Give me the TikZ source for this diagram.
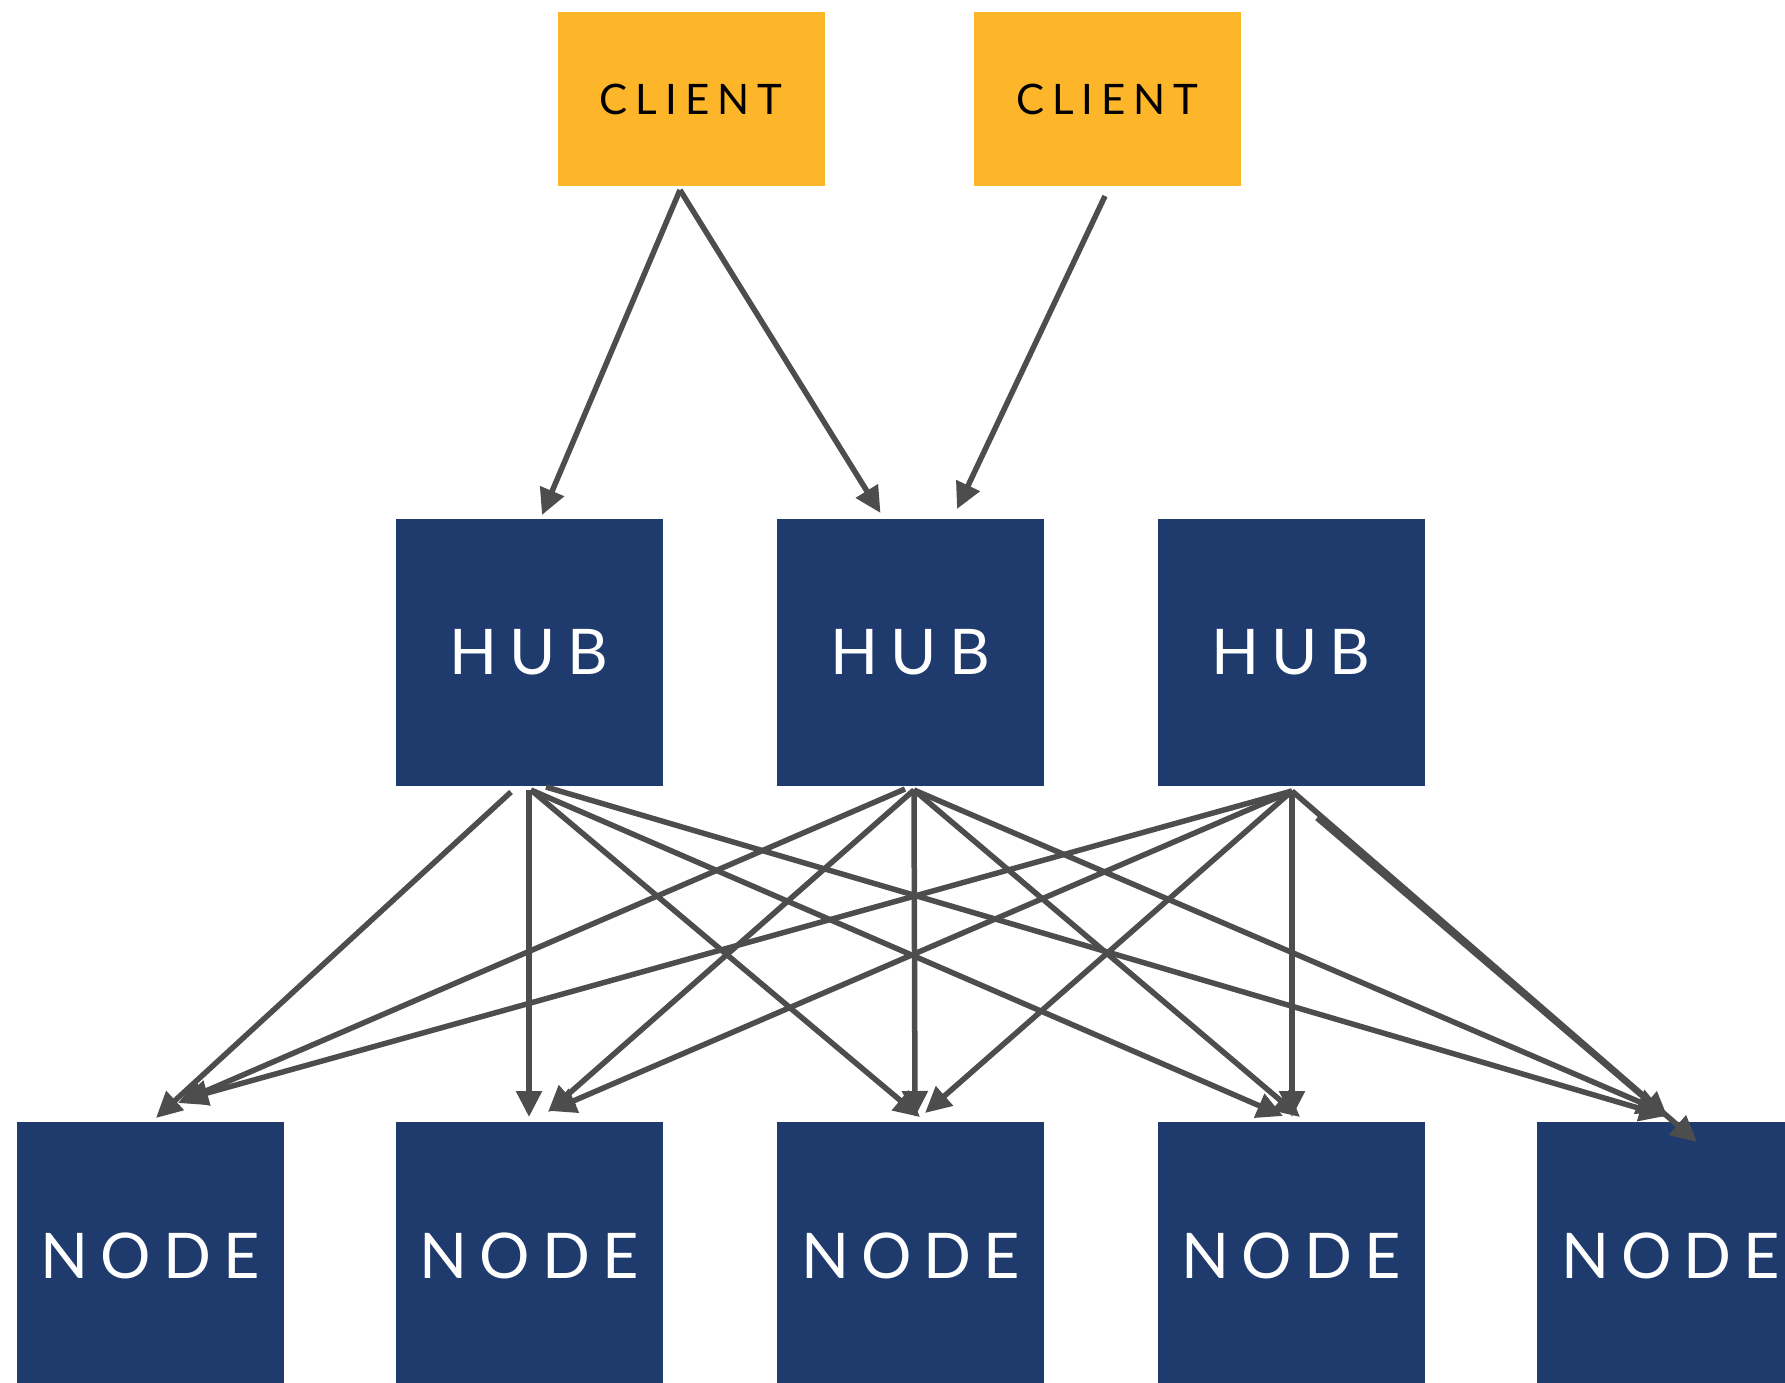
\documentclass[tikz,border=0pt]{standalone}
\usepackage{fontspec}
\setmainfont{Lato}
\newfontfamily\labelfont[LetterSpace=19]{Lato}
\usetikzlibrary{arrows.meta,calc}
\definecolor{clientyellow}{HTML}{FDB52A}
\definecolor{hubnavy}{HTML}{1F3B6D}
\definecolor{wire}{HTML}{4D4D4D}
\begin{document}
\begin{tikzpicture}[x=1pt,y=-1pt,
  box/.style={minimum width=267pt, inner sep=0pt, outer sep=0pt},
  clientbox/.style={box, fill=clientyellow, minimum height=174pt, text=black,
    font=\labelfont\fontsize{42}{42}\selectfont},
  navybox/.style={box, fill=hubnavy, minimum height=267pt, text=white,
    font=\labelfont\fontsize{63}{63}\selectfont},
  link/.style={draw=wire, line width=5.5pt, -{Triangle[length=26pt,width=25pt]}}]

\clip (0,0) rectangle (1785,1383);

% clients
\node[clientbox] (c1) at (691,99) {CLIENT};
\node[clientbox] (c2) at (1107.5,99) {CLIENT};

% hubs
\node[navybox] (h1) at (529,652.5) {HUB};
\node[navybox] (h2) at (910.5,652.5) {HUB};
\node[navybox] (h3) at (1291,652.5) {HUB};

% storage nodes
\node[navybox] (n1) at (150,1255.5) {NODE};
\node[navybox] (n2) at (529,1255.5) {NODE};
\node[navybox] (n3) at (910.5,1255.5) {NODE};
\node[navybox] (n4) at (1291,1255.5) {NODE};
\node[navybox] (n5) at (1670.5,1255.5) {NODE};

% clients to hubs
\draw[link] ($(c1.south)+(-11,4)$) -- ($(h1.north)+(13,-4)$);
\draw[link] ($(c1.south)+(-11,4)$) -- ($(h2.north)+(-30,-6)$);
\draw[link] ($(c2.south)+(-2.5,10)$) -- ($(h2.north)+(46.5,-10)$);

% first hub to nodes
\draw[link] ($(h1.south)+(-18,6)$) -- ($(n1.north)+(6,-4)$);
\draw[link] ($(h1.south)+(0,4)$) -- ($(n2.north)+(0,-5)$);
\draw[link] ($(h1.south)+(2,4)$) -- ($(n3.north)+(9.5,-5)$);
\draw[link] ($(h1.south)+(2,4)$) -- ($(n4.north)+(-8,-6)$);
\draw[link] ($(h1.south)+(17,1)$) -- ($(n5.north)+(-5,-6)$);

% second hub to nodes
\draw[link] ($(h2.south)+(-5.5,3)$) -- ($(n1.north)+(28,-19)$);
\draw[link] ($(h2.south)+(3.5,4)$) -- ($(n2.north)+(19,-10)$);
\draw[link] ($(h2.south)+(3.5,4)$) -- ($(n3.north)+(4.5,-5)$);
\draw[link] ($(h2.south)+(3.5,4)$) -- ($(n4.north)+(9,-5)$);
\draw[link] ($(h2.south)+(3.5,4)$) -- ($(n5.north)+(-7.5,-10)$);

% third hub to nodes
\draw[link] ($(h3.south)+(1,5)$) -- ($(n1.north)+(32,-22)$);
\draw[link] ($(h3.south)+(1,5)$) -- ($(n2.north)+(21,-11)$);
\draw[link] ($(h3.south)+(1,5)$) -- ($(n3.north)+(14.5,-9)$);
\draw[link] ($(h3.south)+(1,5)$) -- ($(n4.north)+(1,-5)$);
\draw[link] ($(h3.south)+(26,32)$) -- ($(n5.north)+(-2.5,-4)$);
\draw[link] ($(h3.south)+(1,5)$) -- ($(n5.north)+(26.5,20)$);
\end{tikzpicture}
\end{document}
